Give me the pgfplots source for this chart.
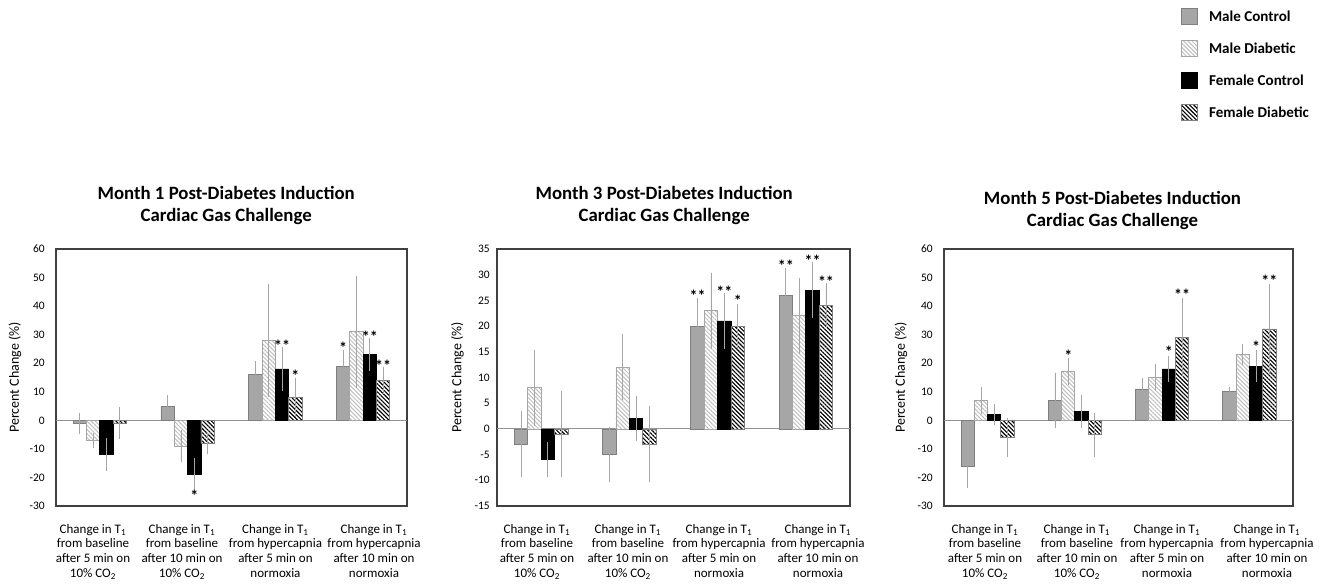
\documentclass[border=0pt]{standalone}
\usepackage{fontspec}
\setmainfont{Carlito}
\usepackage{pgfplots}
\pgfplotsset{compat=1.18}
\usetikzlibrary{patterns.meta}

\definecolor{mcfill}{HTML}{A6A6A6}
\definecolor{mcdraw}{HTML}{7F7F7F}
\definecolor{mdline}{HTML}{BFBFBF}
\definecolor{mddraw}{HTML}{A6A6A6}
\definecolor{fddraw}{HTML}{7F7F7F}
\definecolor{errc}{HTML}{A6A6A6}
\definecolor{framec}{HTML}{404040}

\tikzset{
 mcst/.style={fill=mcfill, draw=mcdraw, line width=0.6pt},
 mdst/.style={fill=white, draw=mddraw, line width=0.6pt, postaction={pattern={Lines[angle=-45,distance=2.2pt,line width=0.75pt]}, pattern color=mdline}},
 fcst/.style={fill=black, draw=black, line width=0.6pt},
 fdst/.style={fill=white, draw=fddraw, line width=0.6pt, postaction={pattern={Lines[angle=-45,distance=2.2pt,line width=0.85pt]}, pattern color=black}},
}

\pgfplotsset{
 eb/.style={error bars/.cd, y dir=both, y explicit,
   error bar style={errc, line width=0.6pt},
   error mark options={errc, line width=0.6pt, mark size=1.5pt}},
 bars/.style={ybar, bar width=0.152, bar shift=0pt},
 stars/.style={forget plot, only marks, mark=none, point meta=explicit symbolic,
   nodes near coords,
   nodes near coords style={anchor=base, yshift=-0.55em, inner sep=0pt,
     font=\fontsize{12}{12}\selectfont\bfseries, text=black}},
 myaxis/.style={
   scale only axis, height=192.75pt, anchor=south west,
   xmin=-0.5, xmax=3.5,
   xticklabels={
     {Change in T\textsubscript{1}\\from baseline\\after 5 min on\\10\% CO\textsubscript{2}},
     {Change in T\textsubscript{1}\\from baseline\\after 10 min on\\10\% CO\textsubscript{2}},
     {Change in T\textsubscript{1}\\from hypercapnia\\after 5 min on\\normoxia},
     {Change in T\textsubscript{1}\\from hypercapnia\\after 10 min on\\normoxia}},
   major tick length=0pt,
   axis line style={framec, line width=0.9pt},
   xticklabel style={font=\fontsize{9.75}{11}\selectfont, align=center, inner sep=0pt, yshift=-13.5pt, anchor=north},
   yticklabel style={font=\fontsize{8.6}{10}\selectfont, inner sep=0pt},
   /pgf/number format/assume math mode=true,
   ylabel={Percent Change (\%)},
   extra y ticks={0}, extra y tick labels={},
   extra y tick style={grid=major, major grid style={gray!85, line width=0.7pt}},
   title style={at={(0.5,1)}, font=\fontsize{14.1}{16.5}\selectfont\bfseries, align=center, inner sep=0pt, anchor=south},
   legend image code/.code={\draw[##1, line width=0.6pt] (0pt,-6pt) rectangle (12pt,6pt);},
 }
}

\begin{document}
\begin{tikzpicture}
\path[use as bounding box] (0,0) rectangle (991.5pt,437.25pt);

% ---------- Month 1 ----------
\begin{axis}[myaxis, at={(42pt,57.75pt)}, width=263.25pt,
  xtick={-0.078,0.936,2.001,3.124},
  ymin=-30, ymax=60, ytick={-30,-20,...,60},
  yticklabel style={xshift=-8.25pt},
  every axis y label/.style={at={(axis description cs:-0.1168,0.5)}, rotate=90, anchor=center, font=\fontsize{10.5}{12}\selectfont},
  title={Month 1 Post-Diabetes Induction\\Cardiac Gas Challenge},
  title style={yshift=12.3pt, xshift=-4pt}]
\addplot[bars, mcst, eb] coordinates {(-0.228,-1) +- (0,3) (0.772,5) +- (0,3) (1.772,16) +- (0,4) (2.772,19) +- (0,5)};
\addplot[bars, mdst, eb] coordinates {(-0.076,-7) +- (0,2) (0.924,-9) +- (0,5) (1.924,28) +- (0,19) (2.924,31) +- (0,19)};
\addplot[bars, fcst, eb] coordinates {(0.076,-12) +- (0,5) (1.076,-19) +- (0,5) (2.076,18) +- (0,7) (3.076,23) +- (0,5)};
\addplot[bars, fdst, eb] coordinates {(0.228,-1) +- (0,5) (1.228,-8) +- (0,3) (2.228,8) +- (0,6) (3.228,14) +- (0,4)};
\addplot[stars] coordinates {(1.076,-25.8) [*] (2.076,26.7) [**] (2.228,16.2) [*] (2.772,26.1) [*] (3.076,29.9) [**] (3.228,19.7) [**]};
\end{axis}

% ---------- Month 3 ----------
\begin{axis}[myaxis, at={(372.75pt,57.75pt)}, width=264.75pt,
  xtick={-0.047,0.984,2.016,3.137},
  ymin=-15, ymax=35, ytick={-15,-10,...,35},
  yticklabel style={xshift=-5.25pt},
  every axis y label/.style={at={(axis description cs:-0.1119,0.5)}, rotate=90, anchor=center, font=\fontsize{10.5}{12}\selectfont},
  title={Month 3 Post-Diabetes Induction\\Cardiac Gas Challenge},
  title style={yshift=12.3pt, xshift=-7pt}]
\addplot[bars, mcst, eb] coordinates {(-0.228,-3) +- (0,6) (0.772,-5) +- (0,5) (1.772,20) +- (0,5) (2.772,26) +- (0,5)};
\addplot[bars, mdst, eb] coordinates {(-0.076,8) +- (0,7) (0.924,12) +- (0,6) (1.924,23) +- (0,7) (2.924,22) +- (0,7)};
\addplot[bars, fcst, eb] coordinates {(0.076,-6) +- (0,3) (1.076,2) +- (0,4) (2.076,21) +- (0,5) (3.076,27) +- (0,5)};
\addplot[bars, fdst, eb] coordinates {(0.228,-1) +- (0,8) (1.228,-3) +- (0,7) (2.228,20) +- (0,4) (3.228,24) +- (0,4)};
\addplot[stars] coordinates {(1.772,26.2) [**] (2.076,26.9) [**] (2.228,25.3) [*] (2.772,32.1) [**] (3.076,33.05) [**] (3.228,29.0) [**]};
\end{axis}

% ---------- Month 5 ----------
\begin{axis}[myaxis, at={(708pt,57.75pt)}, width=261.75pt,
  xtick={-0.03,1.024,2.056,3.202},
  ymin=-30, ymax=60, ytick={-30,-20,...,60},
  yticklabel style={xshift=-8.25pt},
  every axis y label/.style={at={(axis description cs:-0.1232,0.5)}, rotate=90, anchor=center, font=\fontsize{10.5}{12}\selectfont},
  title={Month 5 Post-Diabetes Induction\\Cardiac Gas Challenge},
  title style={yshift=8.5pt, xshift=-4.5pt},
  legend style={at={(0.679,1.938)}, anchor=north west, draw=none, fill=none,
    font=\fontsize{11.3}{12}\selectfont\bfseries, row sep=11.25pt, column sep=8.25pt,
    inner sep=0pt, nodes={inner sep=0pt, text depth=0pt}},
  legend cell align=left]
\addplot[bars, mcst, eb] coordinates {(-0.228,-16) +- (0,7) (0.772,7) +- (0,9) (1.772,11) +- (0,3) (2.772,10) +- (0,1)};
\addlegendentry{Male Control}
\addplot[bars, mdst, eb] coordinates {(-0.076,7) +- (0,4) (0.924,17) +- (0,4) (1.924,15) +- (0,4) (2.924,23) +- (0,3)};
\addlegendentry{Male Diabetic}
\addplot[bars, fcst, eb] coordinates {(0.076,2) +- (0,3) (1.076,3) +- (0,5) (2.076,18) +- (0,4) (3.076,19) +- (0,5)};
\addlegendentry{Female Control}
\addplot[bars, fdst, eb] coordinates {(0.228,-6) +- (0,6) (1.228,-5) +- (0,7) (2.228,29) +- (0,13) (3.228,32) +- (0,15)};
\addlegendentry{Female Diabetic}
\addplot[stars] coordinates {(0.924,23.2) [*] (2.076,24.4) [*] (2.228,44.6) [**] (3.076,26.4) [*] (3.228,49.5) [**]};
\end{axis}
\end{tikzpicture}
\end{document}
